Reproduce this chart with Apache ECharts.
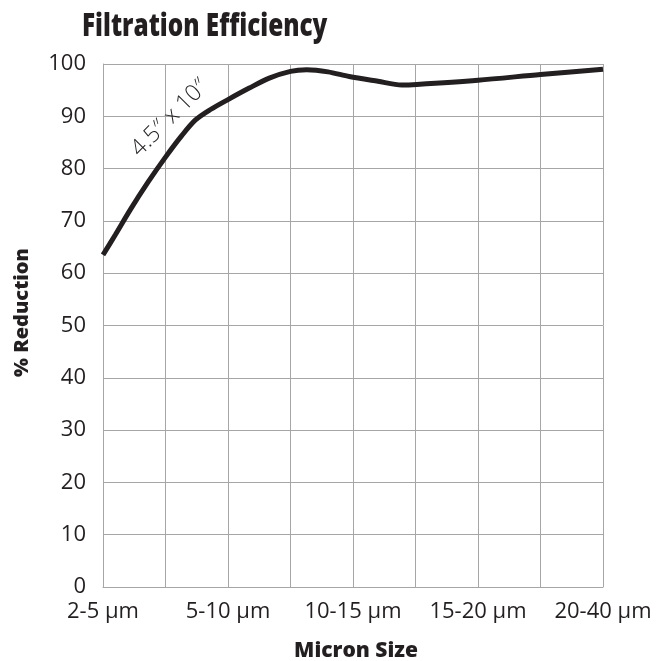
<!DOCTYPE html>
<html>
<head>
<meta charset="utf-8">
<script src="https://cdn.jsdelivr.net/npm/echarts@6/dist/echarts.min.js"></script>
<style>
html,body{margin:0;padding:0;background:#fff;}
#chart{width:658px;height:661px;}
</style>
</head>
<body>
<div id="chart"></div>
<script>
// Category labels (one per integer position on the x scale)
var categories = ['2-5 µm', '5-10 µm', '10-15 µm', '15-20 µm', '20-40 µm'];
// Curve: x position in category units, % reduction
var curveX = [0, 0.1, 0.22, 0.36, 0.5, 0.63, 0.74, 0.86, 1.0, 1.17, 1.33, 1.5, 1.63, 1.8, 1.97, 2.2, 2.39, 2.51, 3.0, 3.5, 4.0];
var curveY = [63.5, 67.4, 72.2, 77.4, 82.2, 86.3, 89.3, 91.3, 93.2, 95.4, 97.3, 98.6, 98.9, 98.5, 97.6, 96.7, 96.0, 96.1, 96.9, 98.0, 99.0];
var yTicks = [0, 10, 20, 30, 40, 50, 60, 70, 80, 90, 100];
var seriesName = '4.5″ x 10″';
var titleText = 'Filtration Efficiency';

var ink = '#231f20';
var gridColor = '#a6a6a6';
var chart = echarts.init(document.getElementById('chart'), null, {renderer: 'canvas'});
var data = curveX.map(function (x, i) { return [x, curveY[i]]; });

chart.setOption({
  backgroundColor: '#fff',
  animation: false,
  grid: {left: 103, top: 64, width: 500, height: 523, containLabel: false, outerBoundsMode: 'none'},
  xAxis: {
    type: 'value',
    min: 0, max: 4, interval: 0.5,
    name: 'Micron Size',
    nameLocation: 'middle',
    nameGap: 54,
    nameTextStyle: {fontFamily: '"Open Sans", sans-serif', fontWeight: 800, fontSize: 21, color: ink, padding: [0, 0, 0, 6]},
    axisLine: {show: true, lineStyle: {color: gridColor, width: 1}},
    axisTick: {show: false},
    axisLabel: {
      margin: 14,
      showMaxLabel: true,
      fontFamily: '"Open Sans", sans-serif', fontSize: 22, color: ink,
      formatter: function (v) { return Math.abs(v - Math.round(v)) < 1e-6 ? categories[Math.round(v)] : ''; }
    },
    splitLine: {show: true, lineStyle: {color: gridColor, width: 1}}
  },
  yAxis: {
    type: 'value',
    min: yTicks[0], max: yTicks[yTicks.length - 1], interval: 10,
    name: '% Reduction',
    nameLocation: 'middle',
    nameGap: 71,
    nameTextStyle: {fontFamily: '"Open Sans", sans-serif', fontWeight: 800, fontSize: 20, color: ink, padding: [0, 0, 0, 26]},
    axisLine: {show: true, lineStyle: {color: gridColor, width: 1}},
    axisTick: {show: false},
    axisLabel: {margin: 17, padding: [3, 0, 0, 0], fontFamily: '"Open Sans", sans-serif', fontSize: 22, color: ink},
    splitLine: {show: true, lineStyle: {color: gridColor, width: 1}}
  },
  series: [{
    name: seriesName,
    type: 'line',
    data: data,
    smooth: 0.3,
    showSymbol: false,
    lineStyle: {color: ink, width: 5},
    itemStyle: {color: ink}
  }]
});

// Rotated series label placed in data coordinates next to the curve
var p = chart.convertToPixel({gridIndex: 0}, [0.535, 89.7]);
chart.setOption({
  graphic: [{
    type: 'text',
    x: 82, y: 11,
    scaleX: 0.76,
    style: {
      text: titleText,
      fontFamily: '"Open Sans", sans-serif',
      fontWeight: 800,
      fontSize: 32,
      fill: ink,
      align: 'left',
      verticalAlign: 'top'
    }
  }, {
    type: 'text',
    x: p[0], y: p[1],
    rotation: Math.PI / 4,
    style: {
      text: seriesName,
      fontFamily: '"Open Sans", sans-serif',
      fontWeight: 300,
      fontSize: 23,
      fill: ink,
      align: 'center',
      verticalAlign: 'middle'
    }
  }]
});
</script>
</body>
</html>
